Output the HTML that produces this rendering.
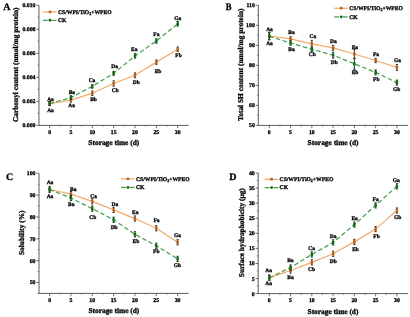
<!DOCTYPE html>
<html><head><meta charset="utf-8"><style>
html,body{margin:0;padding:0;background:#fff;}
body{width:410px;height:317px;overflow:hidden;}
svg{display:block;will-change:transform;}
text{font-family:"Liberation Serif", serif;font-weight:bold;fill:#000;stroke:#000;stroke-width:0.3px;text-rendering:geometricPrecision;}
</style></head><body>
<svg width="410" height="317" viewBox="0 0 410 317">
<rect width="410" height="317" fill="#fff"/>
<path d="M38.95 5.3V125.4H188.7" fill="none" stroke="#333333" stroke-width="0.8"/>
<path d="M36.35 125.40H38.95" stroke="#333333" stroke-width="0.7"/>
<text x="35.45" y="127.40" text-anchor="end" font-size="5.8">0.000</text>
<path d="M36.35 101.38H38.95" stroke="#333333" stroke-width="0.7"/>
<text x="35.45" y="103.38" text-anchor="end" font-size="5.8">0.002</text>
<path d="M36.35 77.36H38.95" stroke="#333333" stroke-width="0.7"/>
<text x="35.45" y="79.36" text-anchor="end" font-size="5.8">0.004</text>
<path d="M36.35 53.34H38.95" stroke="#333333" stroke-width="0.7"/>
<text x="35.45" y="55.34" text-anchor="end" font-size="5.8">0.006</text>
<path d="M36.35 29.32H38.95" stroke="#333333" stroke-width="0.7"/>
<text x="35.45" y="31.32" text-anchor="end" font-size="5.8">0.008</text>
<path d="M36.35 5.30H38.95" stroke="#333333" stroke-width="0.7"/>
<text x="35.45" y="7.30" text-anchor="end" font-size="5.8">0.010</text>
<path d="M37.650000000000006 113.39H38.95" stroke="#333333" stroke-width="0.6"/>
<path d="M37.650000000000006 89.37H38.95" stroke="#333333" stroke-width="0.6"/>
<path d="M37.650000000000006 65.35H38.95" stroke="#333333" stroke-width="0.6"/>
<path d="M37.650000000000006 41.33H38.95" stroke="#333333" stroke-width="0.6"/>
<path d="M37.650000000000006 17.31H38.95" stroke="#333333" stroke-width="0.6"/>
<path d="M49.60 125.4V128.20000000000002" stroke="#333333" stroke-width="0.7"/>
<text x="49.60" y="134.0" text-anchor="middle" font-size="5.8">0</text>
<path d="M60.27 125.4V126.7" stroke="#333333" stroke-width="0.6"/>
<path d="M70.95 125.4V128.20000000000002" stroke="#333333" stroke-width="0.7"/>
<text x="70.95" y="134.0" text-anchor="middle" font-size="5.8">5</text>
<path d="M81.62 125.4V126.7" stroke="#333333" stroke-width="0.6"/>
<path d="M92.30 125.4V128.20000000000002" stroke="#333333" stroke-width="0.7"/>
<text x="92.30" y="134.0" text-anchor="middle" font-size="5.8">10</text>
<path d="M102.97 125.4V126.7" stroke="#333333" stroke-width="0.6"/>
<path d="M113.65 125.4V128.20000000000002" stroke="#333333" stroke-width="0.7"/>
<text x="113.65" y="134.0" text-anchor="middle" font-size="5.8">15</text>
<path d="M124.33 125.4V126.7" stroke="#333333" stroke-width="0.6"/>
<path d="M135.00 125.4V128.20000000000002" stroke="#333333" stroke-width="0.7"/>
<text x="135.00" y="134.0" text-anchor="middle" font-size="5.8">20</text>
<path d="M145.68 125.4V126.7" stroke="#333333" stroke-width="0.6"/>
<path d="M156.35 125.4V128.20000000000002" stroke="#333333" stroke-width="0.7"/>
<text x="156.35" y="134.0" text-anchor="middle" font-size="5.8">25</text>
<path d="M167.03 125.4V126.7" stroke="#333333" stroke-width="0.6"/>
<path d="M177.70 125.4V128.20000000000002" stroke="#333333" stroke-width="0.7"/>
<text x="177.70" y="134.0" text-anchor="middle" font-size="5.8">30</text>
<text x="113.82" y="145.3" text-anchor="middle" font-size="7.4">Storage time (d)</text>
<text transform="translate(18.2 64.75) rotate(-90)" text-anchor="middle" font-size="7.4">Carbonyl content (nmol/mg protein)</text>
<text x="3.2" y="10.4" font-size="10">A</text>
<polyline points="49.60,103.60 70.95,100.10 92.30,93.20 113.65,83.50 135.00,75.30 156.35,62.10 177.70,49.20" fill="none" stroke="#F1AA6C" stroke-width="1.25"/>
<polyline points="49.60,103.60 70.95,97.60 92.30,86.40 113.65,73.30 135.00,55.90 156.35,41.00 177.70,23.80" fill="none" stroke="#45A050" stroke-width="1.25" stroke-dasharray="4.5 2.5"/>
<path d="M48.50 101.60h2.2M49.60 101.60v4.00M48.50 105.60h2.2" stroke="#4A3018" stroke-width="1.0" fill="none"/>
<rect x="48.35" y="102.10" width="2.5" height="3.0" fill="#B8641E"/>
<path d="M69.85 98.10h2.2M70.95 98.10v4.00M69.85 102.10h2.2" stroke="#4A3018" stroke-width="1.0" fill="none"/>
<rect x="69.70" y="98.60" width="2.5" height="3.0" fill="#B8641E"/>
<path d="M91.20 91.00h2.2M92.30 91.00v4.40M91.20 95.40h2.2" stroke="#4A3018" stroke-width="1.0" fill="none"/>
<rect x="91.05" y="91.70" width="2.5" height="3.0" fill="#B8641E"/>
<path d="M112.55 80.80h2.2M113.65 80.80v5.40M112.55 86.20h2.2" stroke="#4A3018" stroke-width="1.0" fill="none"/>
<rect x="112.40" y="82.00" width="2.5" height="3.0" fill="#B8641E"/>
<path d="M133.90 72.90h2.2M135.00 72.90v4.80M133.90 77.70h2.2" stroke="#4A3018" stroke-width="1.0" fill="none"/>
<rect x="133.75" y="73.80" width="2.5" height="3.0" fill="#B8641E"/>
<path d="M155.25 59.90h2.2M156.35 59.90v4.40M155.25 64.30h2.2" stroke="#4A3018" stroke-width="1.0" fill="none"/>
<rect x="155.10" y="60.60" width="2.5" height="3.0" fill="#B8641E"/>
<path d="M176.60 47.00h2.2M177.70 47.00v4.40M176.60 51.40h2.2" stroke="#4A3018" stroke-width="1.0" fill="none"/>
<rect x="176.45" y="47.70" width="2.5" height="3.0" fill="#B8641E"/>
<path d="M48.50 101.60h2.2M49.60 101.60v4.00M48.50 105.60h2.2" stroke="#0E3A10" stroke-width="1.0" fill="none"/>
<rect x="48.35" y="102.10" width="2.5" height="3.0" fill="#146A1A"/>
<path d="M69.85 95.80h2.2M70.95 95.80v3.60M69.85 99.40h2.2" stroke="#0E3A10" stroke-width="1.0" fill="none"/>
<rect x="69.70" y="96.10" width="2.5" height="3.0" fill="#146A1A"/>
<path d="M91.20 84.60h2.2M92.30 84.60v3.60M91.20 88.20h2.2" stroke="#0E3A10" stroke-width="1.0" fill="none"/>
<rect x="91.05" y="84.90" width="2.5" height="3.0" fill="#146A1A"/>
<path d="M112.55 71.30h2.2M113.65 71.30v4.00M112.55 75.30h2.2" stroke="#0E3A10" stroke-width="1.0" fill="none"/>
<rect x="112.40" y="71.80" width="2.5" height="3.0" fill="#146A1A"/>
<path d="M133.90 53.70h2.2M135.00 53.70v4.40M133.90 58.10h2.2" stroke="#0E3A10" stroke-width="1.0" fill="none"/>
<rect x="133.75" y="54.40" width="2.5" height="3.0" fill="#146A1A"/>
<path d="M155.25 38.80h2.2M156.35 38.80v4.40M155.25 43.20h2.2" stroke="#0E3A10" stroke-width="1.0" fill="none"/>
<rect x="155.10" y="39.50" width="2.5" height="3.0" fill="#146A1A"/>
<path d="M176.60 21.50h2.2M177.70 21.50v4.60M176.60 26.10h2.2" stroke="#0E3A10" stroke-width="1.0" fill="none"/>
<rect x="176.45" y="22.30" width="2.5" height="3.0" fill="#146A1A"/>
<text x="50.50" y="100.60" text-anchor="middle" font-size="5.5">Aa</text>
<text x="71.90" y="94.20" text-anchor="middle" font-size="5.5">Ba</text>
<text x="92.00" y="81.60" text-anchor="middle" font-size="5.5">Ca</text>
<text x="114.65" y="68.20" text-anchor="middle" font-size="5.5">Da</text>
<text x="134.20" y="51.00" text-anchor="middle" font-size="5.5">Ea</text>
<text x="156.35" y="36.20" text-anchor="middle" font-size="5.5">Fa</text>
<text x="177.70" y="19.80" text-anchor="middle" font-size="5.5">Ga</text>
<text x="50.50" y="111.70" text-anchor="middle" font-size="5.5">Aa</text>
<text x="71.65" y="107.10" text-anchor="middle" font-size="5.5">Aa</text>
<text x="93.50" y="100.90" text-anchor="middle" font-size="5.5">Bb</text>
<text x="115.25" y="92.10" text-anchor="middle" font-size="5.5">Cb</text>
<text x="136.25" y="84.05" text-anchor="middle" font-size="5.5">Db</text>
<text x="158.05" y="72.50" text-anchor="middle" font-size="5.5">Eb</text>
<text x="178.50" y="56.60" text-anchor="middle" font-size="5.5">Fb</text>
<path d="M43.0 11.9h13.6" stroke="#F1AA6C" stroke-width="1.3"/>
<circle cx="50.00" cy="11.90" r="1.45" fill="#B8641E"/>
<path d="M43.0 20.3h4.8M51.8 20.3h4.8" stroke="#45A050" stroke-width="1.25"/>
<circle cx="50.00" cy="20.30" r="1.45" fill="#146A1A"/>
<text x="58.00" y="13.70" font-size="5.65">CS/WPI/TiO<tspan font-size="4" dy="1">2</tspan><tspan dy="-1">+WPEO</tspan></text>
<text x="58.00" y="22.10" font-size="5.65">CK</text>
<path d="M258.3 5.3V125.4H407.8" fill="none" stroke="#333333" stroke-width="0.8"/>
<path d="M255.70000000000002 125.40H258.3" stroke="#333333" stroke-width="0.7"/>
<text x="254.80" y="127.40" text-anchor="end" font-size="5.8">50</text>
<path d="M255.70000000000002 105.38H258.3" stroke="#333333" stroke-width="0.7"/>
<text x="254.80" y="107.38" text-anchor="end" font-size="5.8">60</text>
<path d="M255.70000000000002 85.36H258.3" stroke="#333333" stroke-width="0.7"/>
<text x="254.80" y="87.36" text-anchor="end" font-size="5.8">70</text>
<path d="M255.70000000000002 65.34H258.3" stroke="#333333" stroke-width="0.7"/>
<text x="254.80" y="67.34" text-anchor="end" font-size="5.8">80</text>
<path d="M255.70000000000002 45.32H258.3" stroke="#333333" stroke-width="0.7"/>
<text x="254.80" y="47.32" text-anchor="end" font-size="5.8">90</text>
<path d="M255.70000000000002 25.30H258.3" stroke="#333333" stroke-width="0.7"/>
<text x="254.80" y="27.30" text-anchor="end" font-size="5.8">100</text>
<path d="M255.70000000000002 5.28H258.3" stroke="#333333" stroke-width="0.7"/>
<text x="254.80" y="7.28" text-anchor="end" font-size="5.8">110</text>
<path d="M257.0 115.39H258.3" stroke="#333333" stroke-width="0.6"/>
<path d="M257.0 95.37H258.3" stroke="#333333" stroke-width="0.6"/>
<path d="M257.0 75.35H258.3" stroke="#333333" stroke-width="0.6"/>
<path d="M257.0 55.33H258.3" stroke="#333333" stroke-width="0.6"/>
<path d="M257.0 35.31H258.3" stroke="#333333" stroke-width="0.6"/>
<path d="M257.0 15.29H258.3" stroke="#333333" stroke-width="0.6"/>
<path d="M269.30 125.4V128.20000000000002" stroke="#333333" stroke-width="0.7"/>
<text x="269.30" y="134.0" text-anchor="middle" font-size="5.8">0</text>
<path d="M279.93 125.4V126.7" stroke="#333333" stroke-width="0.6"/>
<path d="M290.57 125.4V128.20000000000002" stroke="#333333" stroke-width="0.7"/>
<text x="290.57" y="134.0" text-anchor="middle" font-size="5.8">5</text>
<path d="M301.20 125.4V126.7" stroke="#333333" stroke-width="0.6"/>
<path d="M311.83 125.4V128.20000000000002" stroke="#333333" stroke-width="0.7"/>
<text x="311.83" y="134.0" text-anchor="middle" font-size="5.8">10</text>
<path d="M322.47 125.4V126.7" stroke="#333333" stroke-width="0.6"/>
<path d="M333.10 125.4V128.20000000000002" stroke="#333333" stroke-width="0.7"/>
<text x="333.10" y="134.0" text-anchor="middle" font-size="5.8">15</text>
<path d="M343.73 125.4V126.7" stroke="#333333" stroke-width="0.6"/>
<path d="M354.37 125.4V128.20000000000002" stroke="#333333" stroke-width="0.7"/>
<text x="354.37" y="134.0" text-anchor="middle" font-size="5.8">20</text>
<path d="M365.00 125.4V126.7" stroke="#333333" stroke-width="0.6"/>
<path d="M375.63 125.4V128.20000000000002" stroke="#333333" stroke-width="0.7"/>
<text x="375.63" y="134.0" text-anchor="middle" font-size="5.8">25</text>
<path d="M386.27 125.4V126.7" stroke="#333333" stroke-width="0.6"/>
<path d="M396.90 125.4V128.20000000000002" stroke="#333333" stroke-width="0.7"/>
<text x="396.90" y="134.0" text-anchor="middle" font-size="5.8">30</text>
<text x="333.05" y="145.3" text-anchor="middle" font-size="7.4">Storage time (d)</text>
<text transform="translate(242.8 64.75) rotate(-90)" text-anchor="middle" font-size="7.4">Total SH content (nmol/mg protein)</text>
<text transform="translate(225.70000000000002 10.3) scale(0.87 1)" font-size="10">B</text>
<polyline points="269.30,36.00 290.57,38.90 311.83,43.90 333.10,47.80 354.37,54.00 375.63,60.50 396.90,67.45" fill="none" stroke="#F1AA6C" stroke-width="1.25"/>
<polyline points="269.30,36.30 290.57,43.00 311.83,49.30 333.10,55.20 354.37,63.80 375.63,72.40 396.90,82.65" fill="none" stroke="#45A050" stroke-width="1.25" stroke-dasharray="4.5 2.5"/>
<path d="M268.20 32.40h2.2M269.30 32.40v7.20M268.20 39.60h2.2" stroke="#4A3018" stroke-width="1.0" fill="none"/>
<rect x="268.05" y="34.50" width="2.5" height="3.0" fill="#B8641E"/>
<path d="M289.47 36.70h2.2M290.57 36.70v4.40M289.47 41.10h2.2" stroke="#4A3018" stroke-width="1.0" fill="none"/>
<rect x="289.32" y="37.40" width="2.5" height="3.0" fill="#B8641E"/>
<path d="M310.73 40.70h2.2M311.83 40.70v6.40M310.73 47.10h2.2" stroke="#4A3018" stroke-width="1.0" fill="none"/>
<rect x="310.58" y="42.40" width="2.5" height="3.0" fill="#B8641E"/>
<path d="M332.00 45.30h2.2M333.10 45.30v5.00M332.00 50.30h2.2" stroke="#4A3018" stroke-width="1.0" fill="none"/>
<rect x="331.85" y="46.30" width="2.5" height="3.0" fill="#B8641E"/>
<path d="M353.27 49.50h2.2M354.37 49.50v9.00M353.27 58.50h2.2" stroke="#4A3018" stroke-width="1.0" fill="none"/>
<rect x="353.12" y="52.50" width="2.5" height="3.0" fill="#B8641E"/>
<path d="M374.53 58.30h2.2M375.63 58.30v4.40M374.53 62.70h2.2" stroke="#4A3018" stroke-width="1.0" fill="none"/>
<rect x="374.38" y="59.00" width="2.5" height="3.0" fill="#B8641E"/>
<path d="M395.80 64.55h2.2M396.90 64.55v5.80M395.80 70.35h2.2" stroke="#4A3018" stroke-width="1.0" fill="none"/>
<rect x="395.65" y="65.95" width="2.5" height="3.0" fill="#B8641E"/>
<path d="M268.20 32.70h2.2M269.30 32.70v7.20M268.20 39.90h2.2" stroke="#0E3A10" stroke-width="1.0" fill="none"/>
<rect x="268.05" y="34.80" width="2.5" height="3.0" fill="#146A1A"/>
<path d="M289.47 40.80h2.2M290.57 40.80v4.40M289.47 45.20h2.2" stroke="#0E3A10" stroke-width="1.0" fill="none"/>
<rect x="289.32" y="41.50" width="2.5" height="3.0" fill="#146A1A"/>
<path d="M310.73 47.10h2.2M311.83 47.10v4.40M310.73 51.50h2.2" stroke="#0E3A10" stroke-width="1.0" fill="none"/>
<rect x="310.58" y="47.80" width="2.5" height="3.0" fill="#146A1A"/>
<path d="M332.00 52.30h2.2M333.10 52.30v5.80M332.00 58.10h2.2" stroke="#0E3A10" stroke-width="1.0" fill="none"/>
<rect x="331.85" y="53.70" width="2.5" height="3.0" fill="#146A1A"/>
<path d="M353.27 58.30h2.2M354.37 58.30v11.00M353.27 69.30h2.2" stroke="#0E3A10" stroke-width="1.0" fill="none"/>
<rect x="353.12" y="62.30" width="2.5" height="3.0" fill="#146A1A"/>
<path d="M374.53 69.90h2.2M375.63 69.90v5.00M374.53 74.90h2.2" stroke="#0E3A10" stroke-width="1.0" fill="none"/>
<rect x="374.38" y="70.90" width="2.5" height="3.0" fill="#146A1A"/>
<path d="M395.80 80.15h2.2M396.90 80.15v5.00M395.80 85.15h2.2" stroke="#0E3A10" stroke-width="1.0" fill="none"/>
<rect x="395.65" y="81.15" width="2.5" height="3.0" fill="#146A1A"/>
<text x="269.50" y="30.50" text-anchor="middle" font-size="5.5">Aa</text>
<text x="291.57" y="34.20" text-anchor="middle" font-size="5.5">Ba</text>
<text x="312.98" y="37.55" text-anchor="middle" font-size="5.5">Ca</text>
<text x="333.35" y="43.20" text-anchor="middle" font-size="5.5">Da</text>
<text x="354.87" y="48.70" text-anchor="middle" font-size="5.5">Ea</text>
<text x="375.98" y="55.50" text-anchor="middle" font-size="5.5">Fa</text>
<text x="397.55" y="61.50" text-anchor="middle" font-size="5.5">Ga</text>
<text x="269.50" y="44.70" text-anchor="middle" font-size="5.5">Aa</text>
<text x="291.57" y="50.60" text-anchor="middle" font-size="5.5">Ba</text>
<text x="312.18" y="56.20" text-anchor="middle" font-size="5.5">Cb</text>
<text x="334.20" y="63.60" text-anchor="middle" font-size="5.5">Db</text>
<text x="355.02" y="73.75" text-anchor="middle" font-size="5.5">Eb</text>
<text x="376.33" y="80.50" text-anchor="middle" font-size="5.5">Fb</text>
<text x="396.75" y="90.95" text-anchor="middle" font-size="5.5">Gb</text>
<path d="M334.2 8.3h13.6" stroke="#F1AA6C" stroke-width="1.3"/>
<circle cx="341.20" cy="8.30" r="1.45" fill="#B8641E"/>
<path d="M334.2 16.9h4.8M343.0 16.9h4.8" stroke="#45A050" stroke-width="1.25"/>
<circle cx="341.20" cy="16.90" r="1.45" fill="#146A1A"/>
<text x="349.20" y="10.10" font-size="5.65">CS/WPI/TiO<tspan font-size="4" dy="1">2</tspan><tspan dy="-1">+WPEO</tspan></text>
<text x="349.20" y="18.70" font-size="5.65">CK</text>
<path d="M39.0 173.3V293.4H188.7" fill="none" stroke="#333333" stroke-width="0.8"/>
<path d="M36.4 173.30H39.0" stroke="#333333" stroke-width="0.7"/>
<text x="35.50" y="175.30" text-anchor="end" font-size="5.8">100</text>
<path d="M36.4 195.13H39.0" stroke="#333333" stroke-width="0.7"/>
<text x="35.50" y="197.13" text-anchor="end" font-size="5.8">90</text>
<path d="M36.4 216.96H39.0" stroke="#333333" stroke-width="0.7"/>
<text x="35.50" y="218.96" text-anchor="end" font-size="5.8">80</text>
<path d="M36.4 238.79H39.0" stroke="#333333" stroke-width="0.7"/>
<text x="35.50" y="240.79" text-anchor="end" font-size="5.8">70</text>
<path d="M36.4 260.62H39.0" stroke="#333333" stroke-width="0.7"/>
<text x="35.50" y="262.62" text-anchor="end" font-size="5.8">60</text>
<path d="M36.4 282.45H39.0" stroke="#333333" stroke-width="0.7"/>
<text x="35.50" y="284.45" text-anchor="end" font-size="5.8">50</text>
<path d="M37.7 184.22H39.0" stroke="#333333" stroke-width="0.6"/>
<path d="M37.7 206.05H39.0" stroke="#333333" stroke-width="0.6"/>
<path d="M37.7 227.88H39.0" stroke="#333333" stroke-width="0.6"/>
<path d="M37.7 249.71H39.0" stroke="#333333" stroke-width="0.6"/>
<path d="M37.7 271.53H39.0" stroke="#333333" stroke-width="0.6"/>
<path d="M37.7 293.37H39.0" stroke="#333333" stroke-width="0.6"/>
<path d="M49.60 293.4V296.2" stroke="#333333" stroke-width="0.7"/>
<text x="49.60" y="302.0" text-anchor="middle" font-size="5.8">0</text>
<path d="M60.27 293.4V294.7" stroke="#333333" stroke-width="0.6"/>
<path d="M70.93 293.4V296.2" stroke="#333333" stroke-width="0.7"/>
<text x="70.93" y="302.0" text-anchor="middle" font-size="5.8">5</text>
<path d="M81.60 293.4V294.7" stroke="#333333" stroke-width="0.6"/>
<path d="M92.27 293.4V296.2" stroke="#333333" stroke-width="0.7"/>
<text x="92.27" y="302.0" text-anchor="middle" font-size="5.8">10</text>
<path d="M102.93 293.4V294.7" stroke="#333333" stroke-width="0.6"/>
<path d="M113.60 293.4V296.2" stroke="#333333" stroke-width="0.7"/>
<text x="113.60" y="302.0" text-anchor="middle" font-size="5.8">15</text>
<path d="M124.27 293.4V294.7" stroke="#333333" stroke-width="0.6"/>
<path d="M134.93 293.4V296.2" stroke="#333333" stroke-width="0.7"/>
<text x="134.93" y="302.0" text-anchor="middle" font-size="5.8">20</text>
<path d="M145.60 293.4V294.7" stroke="#333333" stroke-width="0.6"/>
<path d="M156.27 293.4V296.2" stroke="#333333" stroke-width="0.7"/>
<text x="156.27" y="302.0" text-anchor="middle" font-size="5.8">25</text>
<path d="M166.93 293.4V294.7" stroke="#333333" stroke-width="0.6"/>
<path d="M177.60 293.4V296.2" stroke="#333333" stroke-width="0.7"/>
<text x="177.60" y="302.0" text-anchor="middle" font-size="5.8">30</text>
<text x="113.85" y="313.29999999999995" text-anchor="middle" font-size="7.4">Storage time (d)</text>
<text transform="translate(23.5 232.75) rotate(-90)" text-anchor="middle" font-size="7.4">Solubility (%)</text>
<text x="5.9" y="179.70000000000002" font-size="10">C</text>
<polyline points="49.60,189.50 70.93,194.20 92.27,201.30 113.60,209.95 134.93,218.55 156.27,228.30 177.60,242.30" fill="none" stroke="#F1AA6C" stroke-width="1.25"/>
<polyline points="49.60,189.50 70.93,198.00 92.27,208.60 113.60,219.80 134.93,234.35 156.27,245.75 177.60,258.85" fill="none" stroke="#45A050" stroke-width="1.25" stroke-dasharray="4.5 2.5"/>
<path d="M48.50 186.90h2.2M49.60 186.90v5.20M48.50 192.10h2.2" stroke="#4A3018" stroke-width="1.0" fill="none"/>
<rect x="48.35" y="188.00" width="2.5" height="3.0" fill="#B8641E"/>
<path d="M69.83 191.60h2.2M70.93 191.60v5.20M69.83 196.80h2.2" stroke="#4A3018" stroke-width="1.0" fill="none"/>
<rect x="69.68" y="192.70" width="2.5" height="3.0" fill="#B8641E"/>
<path d="M91.17 198.70h2.2M92.27 198.70v5.20M91.17 203.90h2.2" stroke="#4A3018" stroke-width="1.0" fill="none"/>
<rect x="91.02" y="199.80" width="2.5" height="3.0" fill="#B8641E"/>
<path d="M112.50 207.35h2.2M113.60 207.35v5.20M112.50 212.55h2.2" stroke="#4A3018" stroke-width="1.0" fill="none"/>
<rect x="112.35" y="208.45" width="2.5" height="3.0" fill="#B8641E"/>
<path d="M133.83 215.95h2.2M134.93 215.95v5.20M133.83 221.15h2.2" stroke="#4A3018" stroke-width="1.0" fill="none"/>
<rect x="133.68" y="217.05" width="2.5" height="3.0" fill="#B8641E"/>
<path d="M155.17 225.70h2.2M156.27 225.70v5.20M155.17 230.90h2.2" stroke="#4A3018" stroke-width="1.0" fill="none"/>
<rect x="155.02" y="226.80" width="2.5" height="3.0" fill="#B8641E"/>
<path d="M176.50 239.70h2.2M177.60 239.70v5.20M176.50 244.90h2.2" stroke="#4A3018" stroke-width="1.0" fill="none"/>
<rect x="176.35" y="240.80" width="2.5" height="3.0" fill="#B8641E"/>
<path d="M48.50 186.90h2.2M49.60 186.90v5.20M48.50 192.10h2.2" stroke="#0E3A10" stroke-width="1.0" fill="none"/>
<rect x="48.35" y="188.00" width="2.5" height="3.0" fill="#146A1A"/>
<path d="M69.83 195.40h2.2M70.93 195.40v5.20M69.83 200.60h2.2" stroke="#0E3A10" stroke-width="1.0" fill="none"/>
<rect x="69.68" y="196.50" width="2.5" height="3.0" fill="#146A1A"/>
<path d="M91.17 206.00h2.2M92.27 206.00v5.20M91.17 211.20h2.2" stroke="#0E3A10" stroke-width="1.0" fill="none"/>
<rect x="91.02" y="207.10" width="2.5" height="3.0" fill="#146A1A"/>
<path d="M112.50 217.20h2.2M113.60 217.20v5.20M112.50 222.40h2.2" stroke="#0E3A10" stroke-width="1.0" fill="none"/>
<rect x="112.35" y="218.30" width="2.5" height="3.0" fill="#146A1A"/>
<path d="M133.83 231.75h2.2M134.93 231.75v5.20M133.83 236.95h2.2" stroke="#0E3A10" stroke-width="1.0" fill="none"/>
<rect x="133.68" y="232.85" width="2.5" height="3.0" fill="#146A1A"/>
<path d="M155.17 243.15h2.2M156.27 243.15v5.20M155.17 248.35h2.2" stroke="#0E3A10" stroke-width="1.0" fill="none"/>
<rect x="155.02" y="244.25" width="2.5" height="3.0" fill="#146A1A"/>
<path d="M176.50 256.25h2.2M177.60 256.25v5.20M176.50 261.45h2.2" stroke="#0E3A10" stroke-width="1.0" fill="none"/>
<rect x="176.35" y="257.35" width="2.5" height="3.0" fill="#146A1A"/>
<text x="50.00" y="184.30" text-anchor="middle" font-size="5.5">Aa</text>
<text x="73.23" y="190.50" text-anchor="middle" font-size="5.5">Ba</text>
<text x="93.57" y="197.80" text-anchor="middle" font-size="5.5">Ca</text>
<text x="114.95" y="206.30" text-anchor="middle" font-size="5.5">Da</text>
<text x="135.23" y="213.70" text-anchor="middle" font-size="5.5">Ea</text>
<text x="156.57" y="221.90" text-anchor="middle" font-size="5.5">Fa</text>
<text x="177.40" y="237.00" text-anchor="middle" font-size="5.5">Ga</text>
<text x="50.00" y="197.80" text-anchor="middle" font-size="5.5">Aa</text>
<text x="71.33" y="205.75" text-anchor="middle" font-size="5.5">Ba</text>
<text x="92.72" y="218.80" text-anchor="middle" font-size="5.5">Cb</text>
<text x="114.15" y="229.40" text-anchor="middle" font-size="5.5">Db</text>
<text x="135.98" y="242.55" text-anchor="middle" font-size="5.5">Eb</text>
<text x="156.27" y="253.00" text-anchor="middle" font-size="5.5">Fb</text>
<text x="177.35" y="267.40" text-anchor="middle" font-size="5.5">Gb</text>
<path d="M121.0 178.9h13.6" stroke="#F1AA6C" stroke-width="1.3"/>
<circle cx="128.00" cy="178.90" r="1.45" fill="#B8641E"/>
<path d="M121.0 187.4h4.8M129.8 187.4h4.8" stroke="#45A050" stroke-width="1.25"/>
<circle cx="128.00" cy="187.40" r="1.45" fill="#146A1A"/>
<text x="136.00" y="180.70" font-size="5.65">CS/WPI/TiO<tspan font-size="4" dy="1">2</tspan><tspan dy="-1">+WPEO</tspan></text>
<text x="136.00" y="189.20" font-size="5.65">CK</text>
<path d="M258.2 173.0V293.6H407.8" fill="none" stroke="#333333" stroke-width="0.8"/>
<path d="M255.6 293.60H258.2" stroke="#333333" stroke-width="0.7"/>
<text x="254.70" y="295.60" text-anchor="end" font-size="5.8">0</text>
<path d="M255.6 278.53H258.2" stroke="#333333" stroke-width="0.7"/>
<text x="254.70" y="280.53" text-anchor="end" font-size="5.8">5</text>
<path d="M255.6 263.45H258.2" stroke="#333333" stroke-width="0.7"/>
<text x="254.70" y="265.45" text-anchor="end" font-size="5.8">10</text>
<path d="M255.6 248.38H258.2" stroke="#333333" stroke-width="0.7"/>
<text x="254.70" y="250.38" text-anchor="end" font-size="5.8">15</text>
<path d="M255.6 233.30H258.2" stroke="#333333" stroke-width="0.7"/>
<text x="254.70" y="235.30" text-anchor="end" font-size="5.8">20</text>
<path d="M255.6 218.23H258.2" stroke="#333333" stroke-width="0.7"/>
<text x="254.70" y="220.23" text-anchor="end" font-size="5.8">25</text>
<path d="M255.6 203.15H258.2" stroke="#333333" stroke-width="0.7"/>
<text x="254.70" y="205.15" text-anchor="end" font-size="5.8">30</text>
<path d="M255.6 188.08H258.2" stroke="#333333" stroke-width="0.7"/>
<text x="254.70" y="190.08" text-anchor="end" font-size="5.8">35</text>
<path d="M255.6 173.00H258.2" stroke="#333333" stroke-width="0.7"/>
<text x="254.70" y="175.00" text-anchor="end" font-size="5.8">40</text>
<path d="M256.9 286.06H258.2" stroke="#333333" stroke-width="0.6"/>
<path d="M256.9 270.99H258.2" stroke="#333333" stroke-width="0.6"/>
<path d="M256.9 255.91H258.2" stroke="#333333" stroke-width="0.6"/>
<path d="M256.9 240.84H258.2" stroke="#333333" stroke-width="0.6"/>
<path d="M256.9 225.76H258.2" stroke="#333333" stroke-width="0.6"/>
<path d="M256.9 210.69H258.2" stroke="#333333" stroke-width="0.6"/>
<path d="M256.9 195.61H258.2" stroke="#333333" stroke-width="0.6"/>
<path d="M256.9 180.54H258.2" stroke="#333333" stroke-width="0.6"/>
<path d="M269.30 293.6V296.40000000000003" stroke="#333333" stroke-width="0.7"/>
<text x="269.30" y="302.20000000000005" text-anchor="middle" font-size="5.8">0</text>
<path d="M279.93 293.6V294.90000000000003" stroke="#333333" stroke-width="0.6"/>
<path d="M290.57 293.6V296.40000000000003" stroke="#333333" stroke-width="0.7"/>
<text x="290.57" y="302.20000000000005" text-anchor="middle" font-size="5.8">5</text>
<path d="M301.20 293.6V294.90000000000003" stroke="#333333" stroke-width="0.6"/>
<path d="M311.83 293.6V296.40000000000003" stroke="#333333" stroke-width="0.7"/>
<text x="311.83" y="302.20000000000005" text-anchor="middle" font-size="5.8">10</text>
<path d="M322.47 293.6V294.90000000000003" stroke="#333333" stroke-width="0.6"/>
<path d="M333.10 293.6V296.40000000000003" stroke="#333333" stroke-width="0.7"/>
<text x="333.10" y="302.20000000000005" text-anchor="middle" font-size="5.8">15</text>
<path d="M343.73 293.6V294.90000000000003" stroke="#333333" stroke-width="0.6"/>
<path d="M354.37 293.6V296.40000000000003" stroke="#333333" stroke-width="0.7"/>
<text x="354.37" y="302.20000000000005" text-anchor="middle" font-size="5.8">20</text>
<path d="M365.00 293.6V294.90000000000003" stroke="#333333" stroke-width="0.6"/>
<path d="M375.63 293.6V296.40000000000003" stroke="#333333" stroke-width="0.7"/>
<text x="375.63" y="302.20000000000005" text-anchor="middle" font-size="5.8">25</text>
<path d="M386.27 293.6V294.90000000000003" stroke="#333333" stroke-width="0.6"/>
<path d="M396.90 293.6V296.40000000000003" stroke="#333333" stroke-width="0.7"/>
<text x="396.90" y="302.20000000000005" text-anchor="middle" font-size="5.8">30</text>
<text x="333.00" y="313.5" text-anchor="middle" font-size="7.4">Storage time (d)</text>
<text transform="translate(243.8 232.70) rotate(-90)" text-anchor="middle" font-size="7.4">Surface hydrophobicity (μg)</text>
<text x="229.3" y="180.3" font-size="10">D</text>
<polyline points="269.30,277.70 290.57,270.50 311.83,262.35 333.10,253.80 354.37,241.90 375.63,229.10 396.90,210.55" fill="none" stroke="#F1AA6C" stroke-width="1.25"/>
<polyline points="269.30,277.70 290.57,267.55 311.83,254.50 333.10,242.45 354.37,224.60 375.63,205.35 396.90,186.35" fill="none" stroke="#45A050" stroke-width="1.25" stroke-dasharray="4.5 2.5"/>
<path d="M268.20 275.10h2.2M269.30 275.10v5.20M268.20 280.30h2.2" stroke="#4A3018" stroke-width="1.0" fill="none"/>
<rect x="268.05" y="276.20" width="2.5" height="3.0" fill="#B8641E"/>
<path d="M289.47 267.90h2.2M290.57 267.90v5.20M289.47 273.10h2.2" stroke="#4A3018" stroke-width="1.0" fill="none"/>
<rect x="289.32" y="269.00" width="2.5" height="3.0" fill="#B8641E"/>
<path d="M310.73 259.75h2.2M311.83 259.75v5.20M310.73 264.95h2.2" stroke="#4A3018" stroke-width="1.0" fill="none"/>
<rect x="310.58" y="260.85" width="2.5" height="3.0" fill="#B8641E"/>
<path d="M332.00 251.20h2.2M333.10 251.20v5.20M332.00 256.40h2.2" stroke="#4A3018" stroke-width="1.0" fill="none"/>
<rect x="331.85" y="252.30" width="2.5" height="3.0" fill="#B8641E"/>
<path d="M353.27 239.30h2.2M354.37 239.30v5.20M353.27 244.50h2.2" stroke="#4A3018" stroke-width="1.0" fill="none"/>
<rect x="353.12" y="240.40" width="2.5" height="3.0" fill="#B8641E"/>
<path d="M374.53 226.50h2.2M375.63 226.50v5.20M374.53 231.70h2.2" stroke="#4A3018" stroke-width="1.0" fill="none"/>
<rect x="374.38" y="227.60" width="2.5" height="3.0" fill="#B8641E"/>
<path d="M395.80 207.95h2.2M396.90 207.95v5.20M395.80 213.15h2.2" stroke="#4A3018" stroke-width="1.0" fill="none"/>
<rect x="395.65" y="209.05" width="2.5" height="3.0" fill="#B8641E"/>
<path d="M268.20 275.10h2.2M269.30 275.10v5.20M268.20 280.30h2.2" stroke="#0E3A10" stroke-width="1.0" fill="none"/>
<rect x="268.05" y="276.20" width="2.5" height="3.0" fill="#146A1A"/>
<path d="M289.47 264.95h2.2M290.57 264.95v5.20M289.47 270.15h2.2" stroke="#0E3A10" stroke-width="1.0" fill="none"/>
<rect x="289.32" y="266.05" width="2.5" height="3.0" fill="#146A1A"/>
<path d="M310.73 251.90h2.2M311.83 251.90v5.20M310.73 257.10h2.2" stroke="#0E3A10" stroke-width="1.0" fill="none"/>
<rect x="310.58" y="253.00" width="2.5" height="3.0" fill="#146A1A"/>
<path d="M332.00 239.85h2.2M333.10 239.85v5.20M332.00 245.05h2.2" stroke="#0E3A10" stroke-width="1.0" fill="none"/>
<rect x="331.85" y="240.95" width="2.5" height="3.0" fill="#146A1A"/>
<path d="M353.27 222.00h2.2M354.37 222.00v5.20M353.27 227.20h2.2" stroke="#0E3A10" stroke-width="1.0" fill="none"/>
<rect x="353.12" y="223.10" width="2.5" height="3.0" fill="#146A1A"/>
<path d="M374.53 202.75h2.2M375.63 202.75v5.20M374.53 207.95h2.2" stroke="#0E3A10" stroke-width="1.0" fill="none"/>
<rect x="374.38" y="203.85" width="2.5" height="3.0" fill="#146A1A"/>
<path d="M395.80 183.75h2.2M396.90 183.75v5.20M395.80 188.95h2.2" stroke="#0E3A10" stroke-width="1.0" fill="none"/>
<rect x="395.65" y="184.85" width="2.5" height="3.0" fill="#146A1A"/>
<text x="268.70" y="271.90" text-anchor="middle" font-size="5.5">Aa</text>
<text x="290.42" y="262.40" text-anchor="middle" font-size="5.5">Ba</text>
<text x="311.58" y="249.95" text-anchor="middle" font-size="5.5">Ca</text>
<text x="333.10" y="238.15" text-anchor="middle" font-size="5.5">Da</text>
<text x="354.62" y="220.30" text-anchor="middle" font-size="5.5">Ea</text>
<text x="375.63" y="201.45" text-anchor="middle" font-size="5.5">Fa</text>
<text x="396.20" y="182.00" text-anchor="middle" font-size="5.5">Ga</text>
<text x="268.70" y="285.20" text-anchor="middle" font-size="5.5">Aa</text>
<text x="290.57" y="278.65" text-anchor="middle" font-size="5.5">Ba</text>
<text x="311.58" y="270.70" text-anchor="middle" font-size="5.5">Cb</text>
<text x="333.30" y="262.55" text-anchor="middle" font-size="5.5">Db</text>
<text x="355.57" y="250.90" text-anchor="middle" font-size="5.5">Eb</text>
<text x="376.58" y="237.60" text-anchor="middle" font-size="5.5">Fb</text>
<text x="397.65" y="218.80" text-anchor="middle" font-size="5.5">Gb</text>
<path d="M264.6 179.3h13.6" stroke="#F1AA6C" stroke-width="1.3"/>
<circle cx="271.60" cy="179.30" r="1.45" fill="#B8641E"/>
<path d="M264.6 187.6h4.8M273.40000000000003 187.6h4.8" stroke="#45A050" stroke-width="1.25"/>
<circle cx="271.60" cy="187.60" r="1.45" fill="#146A1A"/>
<text x="279.60" y="181.10" font-size="5.65">CS/WPI/TiO<tspan font-size="4" dy="1">2</tspan><tspan dy="-1">+WPEO</tspan></text>
<text x="279.60" y="189.40" font-size="5.65">CK</text>
</svg></body></html>
